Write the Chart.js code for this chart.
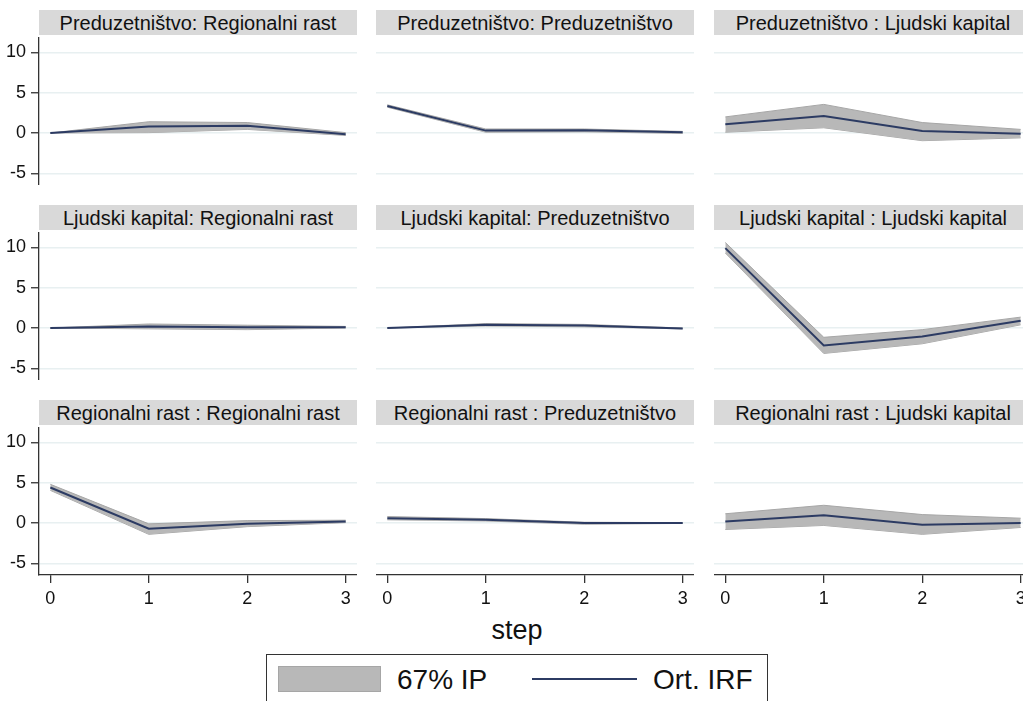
<!DOCTYPE html>
<html>
<head>
<meta charset="utf-8">
<script src="https://cdn.jsdelivr.net/npm/chart.js@4/dist/chart.umd.min.js"></script>
<style>
  html, body { margin:0; padding:0; background:#fff; overflow:hidden; }
  #wrap { position:relative; width:1023px; height:701px; overflow:hidden; background:#fff;
          font-family:"Liberation Sans", Arial, sans-serif; color:#111; }
  .strip { position:absolute; background:#d9d9d9; text-align:center; font-size:20px;
           line-height:26px; height:25px; white-space:nowrap; overflow:hidden; }
  canvas { position:absolute; }
  .lbl { position:absolute; white-space:nowrap; }
</style>
</head>
<body>
<div id="wrap">
  <div class="lbl" style="left:0;width:1034px;top:615px;text-align:center;font-size:27px;">step</div>
  <div style="position:absolute;left:266px;top:654px;width:500px;height:60px;border:1.5px solid #333;"></div>
  <div style="position:absolute;left:278px;top:666px;width:101px;height:24px;background:#b8b8b8;border:1.5px solid #a6a6a6;"></div>
  <div class="lbl" style="left:397px;top:663px;font-size:28px;line-height:34px;">67% IP</div>
  <div style="position:absolute;left:532px;top:678px;width:105px;height:2px;background:#2c3b63;"></div>
  <div class="lbl" style="left:653px;top:663px;font-size:28px;line-height:34px;">Ort. IRF</div>
</div>
<script>
// ---- data ----
const steps = [0, 1, 2, 3];
const yTicks = [-5, 0, 5, 10];
const titles = [
  "Preduzetništvo: Regionalni rast", "Preduzetništvo: Preduzetništvo", "Preduzetništvo : Ljudski kapital",
  "Ljudski kapital: Regionalni rast", "Ljudski kapital: Preduzetništvo", "Ljudski kapital : Ljudski kapital",
  "Regionalni rast : Regionalni rast", "Regionalni rast : Preduzetništvo", "Regionalni rast : Ljudski kapital"
];
const legendBand = "67% IP";
const legendLine = "Ort. IRF";

const irf1 = [0, 0.8, 0.9, -0.15];   const lo1 = [0, 0.05, 0.45, -0.3];   const hi1 = [0, 1.4, 1.3, 0.05];
const irf2 = [3.35, 0.3, 0.35, 0.1]; const lo2 = [3.2, 0.1, 0.15, -0.05]; const hi2 = [3.5, 0.5, 0.5, 0.2];
const irf3 = [1.1, 2.1, 0.25, -0.1]; const lo3 = [0.1, 0.65, -0.95, -0.6]; const hi3 = [2.0, 3.55, 1.3, 0.45];
const irf4 = [0, 0.2, 0.1, 0.1];     const lo4 = [0, -0.1, -0.2, 0.0];    const hi4 = [0, 0.5, 0.35, 0.2];
const irf5 = [0, 0.4, 0.3, -0.05];   const lo5 = [0, 0.25, 0.15, -0.1];   const hi5 = [0, 0.55, 0.45, 0.0];
const irf6 = [9.9, -2.15, -1.05, 0.9]; const lo6 = [9.3, -3.15, -1.95, 0.4]; const hi6 = [10.6, -1.15, -0.2, 1.35];
const irf7 = [4.4, -0.7, -0.1, 0.2]; const lo7 = [4.05, -1.4, -0.45, 0.05]; const hi7 = [4.8, -0.1, 0.3, 0.35];
const irf8 = [0.6, 0.4, 0.0, 0.0];   const lo8 = [0.4, 0.25, -0.15, -0.05]; const hi8 = [0.8, 0.55, 0.1, 0.05];
const irf9 = [0.2, 0.95, -0.2, 0.0]; const lo9 = [-0.8, -0.3, -1.4, -0.55]; const hi9 = [1.15, 2.2, 1.05, 0.6];

const irfs = [irf1, irf2, irf3, irf4, irf5, irf6, irf7, irf8, irf9];
const los  = [lo1, lo2, lo3, lo4, lo5, lo6, lo7, lo8, lo9];
const his  = [hi1, hi2, hi3, hi4, hi5, hi6, hi7, hi8, hi9];

// ---- layout ----
const FONT = "'Liberation Sans', Arial, sans-serif";
const colLeft = [39, 376, 714];
const plotW = 318, plotH = 148, rowTop0 = 37, rowGap = 195;
const AXIS_COL = '#333333', GRID_COL = '#e8f0f1';
const BAND = '#b8b8b8', BAND_EDGE = '#a6a6a6', LINE = '#2c3b63';
const wrap = document.getElementById('wrap');

const pts = arr => steps.map((s, i) => ({ x: s, y: arr[i] }));
const noPad = s => { s.paddingTop = 0; s.paddingBottom = 0; s.paddingLeft = 0; s.paddingRight = 0; };

for (let k = 0; k < 9; k++) {
  const r = Math.floor(k / 3), c = k % 3;
  const pl = colLeft[c], pt = rowTop0 + rowGap * r;

  const strip = document.createElement('div');
  strip.className = 'strip';
  strip.style.left = pl + 'px'; strip.style.top = (pt - 27) + 'px'; strip.style.width = plotW + 'px';
  strip.textContent = titles[k];
  wrap.appendChild(strip);

  const yAxW = c === 0 ? pl : 0;
  const xAxH = r === 2 ? 42 : 0;
  const cv = document.createElement('canvas');
  const W = plotW + yAxW, H = plotH + xAxH;
  cv.style.left = (pl - yAxW) + 'px'; cv.style.top = pt + 'px';
  cv.style.width = W + 'px'; cv.style.height = H + 'px';
  cv.width = W; cv.height = H;
  wrap.appendChild(cv);

  new Chart(cv, {
    type: 'line',
    data: {
      datasets: [
        { label: legendBand + ' lo', data: pts(los[k]), borderColor: BAND_EDGE, borderWidth: 1,
          pointRadius: 0, fill: false, tension: 0, order: 2 },
        { label: legendBand, data: pts(his[k]), borderColor: BAND_EDGE, borderWidth: 1,
          backgroundColor: BAND, pointRadius: 0, fill: '-1', tension: 0, order: 1 },
        { label: legendLine, data: pts(irfs[k]), borderColor: LINE, borderWidth: 2,
          pointRadius: 0, fill: false, tension: 0, order: 0 }
      ]
    },
    options: {
      responsive: false, animation: false, maintainAspectRatio: false,
      layout: { padding: 0 },
      plugins: { legend: { display: false }, tooltip: { enabled: false }, title: { display: false } },
      scales: {
        x: {
          type: 'linear', min: -0.115, max: 3.115,
          display: r === 2,
          afterBuildTicks: s => { s.ticks = steps.map(v => ({ value: v })); },
          afterFit: s => { s.height = xAxH; noPad(s); },
          border: { display: true, color: AXIS_COL, width: 1.3 },
          grid: { drawOnChartArea: false, drawTicks: true, tickLength: 8, tickColor: AXIS_COL, lineWidth: 1.3 },
          ticks: { font: { family: FONT, size: 18 }, color: '#111', padding: 5, maxRotation: 0 }
        },
        y: {
          type: 'linear', min: -6.44, max: 11.9,
          afterBuildTicks: s => { s.ticks = yTicks.map(v => ({ value: v })); },
          afterFit: s => { s.width = yAxW; noPad(s); },
          border: { display: c === 0, color: AXIS_COL, width: 1.3 },
          grid: { color: GRID_COL, lineWidth: 1.5, drawTicks: c === 0, tickLength: 8, tickColor: AXIS_COL, tickWidth: 1.3 },
          ticks: { display: c === 0, font: { family: FONT, size: 18 }, color: '#111', padding: 5 }
        }
      }
    }
  });
}
</script>
</body>
</html>
